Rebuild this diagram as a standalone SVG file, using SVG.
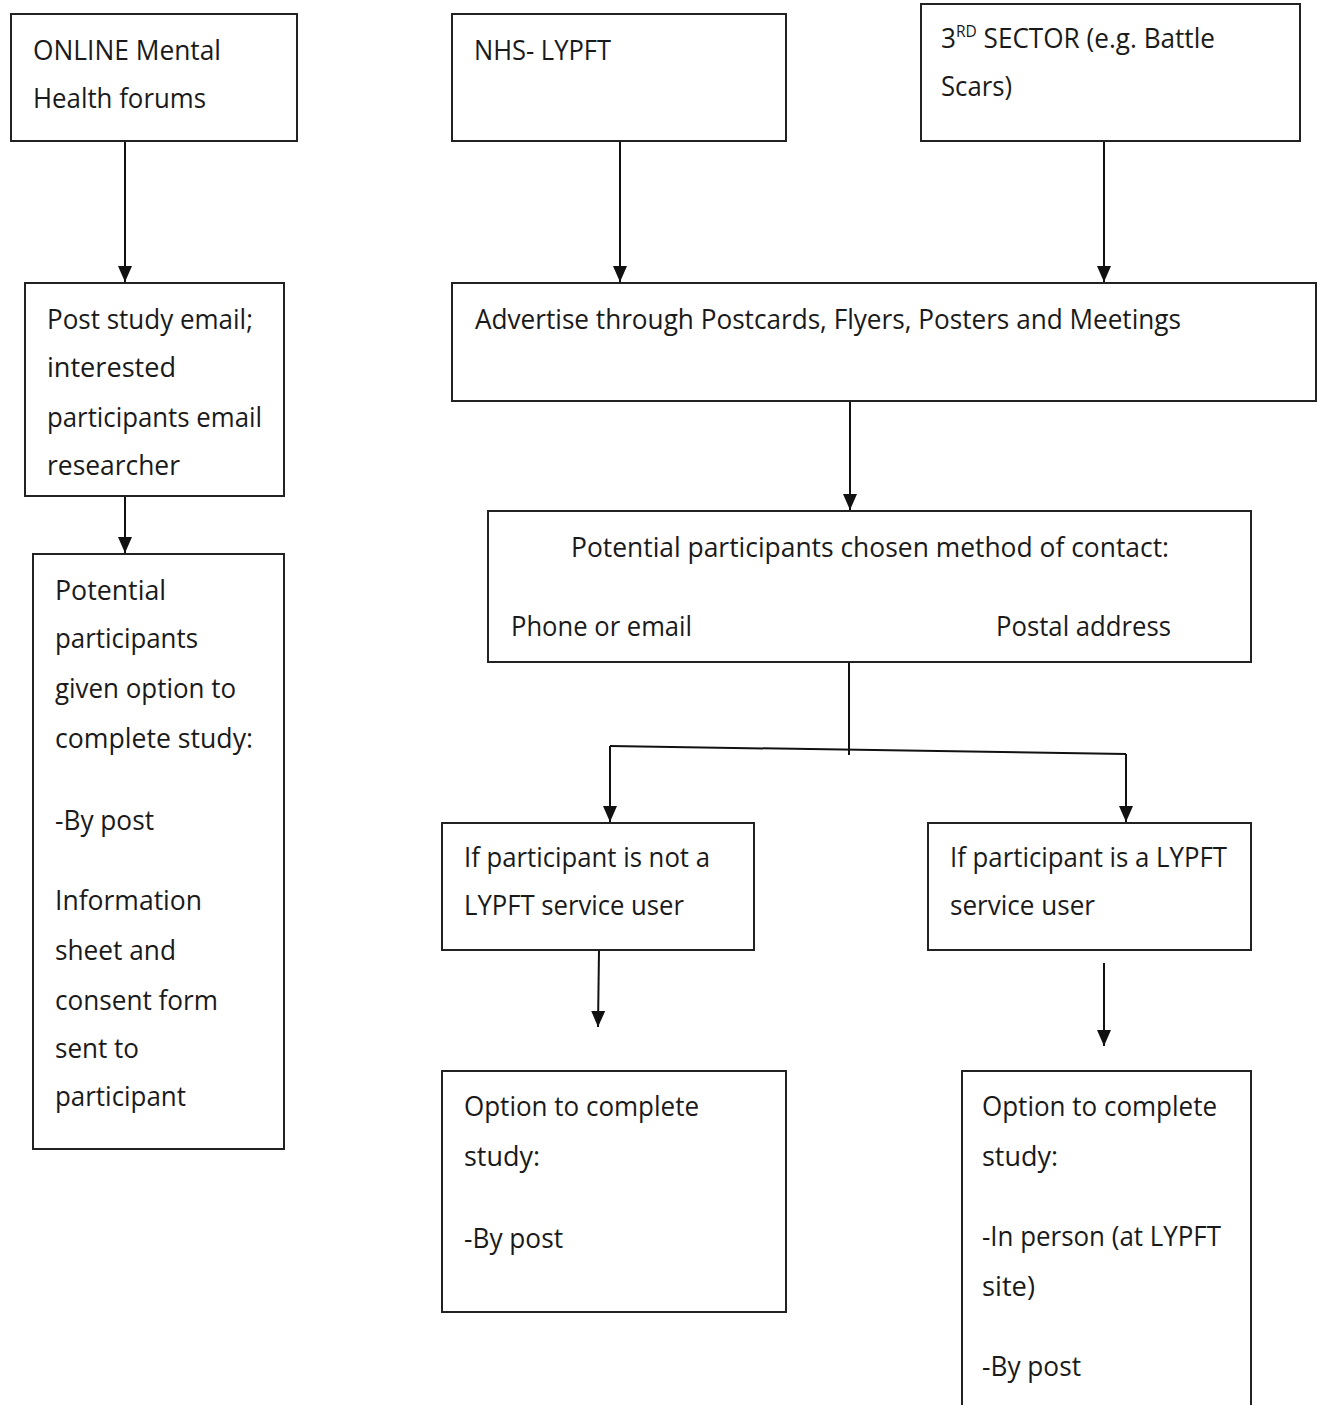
<svg xmlns="http://www.w3.org/2000/svg" width="1324" height="1405" viewBox="0 0 1324 1405">
<style>
.box{fill:#fff;stroke:#222;stroke-width:2}
.t{font-family:"Open Sans","Liberation Sans",sans-serif;font-size:27px;fill:#1a1a1a}
.c{fill:none;stroke:#111;stroke-width:2}
.a{marker-end:url(#ah)}
</style>
<defs>
<marker id="ah" markerUnits="userSpaceOnUse" markerWidth="14" markerHeight="16" viewBox="0 0 14 16" refX="7" refY="16" orient="auto">
<path d="M0,1 L0,15 L16,8 Z" transform="rotate(0)" fill="#111"/>
</marker>
<marker id="ahd" markerUnits="userSpaceOnUse" markerWidth="16" markerHeight="16" viewBox="0 0 16 16" refX="16" refY="8" orient="auto">
<path d="M0,1 L16,8 L0,15 Z" fill="#111"/>
</marker>
</defs>
<rect width="1324" height="1405" fill="#fff"/>
<g id="connectors">
<path class="c" d="M125,141 V282" marker-end="url(#ahd)"/>
<path class="c" d="M620,141 V282" marker-end="url(#ahd)"/>
<path class="c" d="M1104,141 V282" marker-end="url(#ahd)"/>
<path class="c" d="M125,496 V553" marker-end="url(#ahd)"/>
<path class="c" d="M850,401 V510" marker-end="url(#ahd)"/>
<path class="c" d="M849,662 V755"/>
<path class="c" d="M610,746 L1126,754"/>
<path class="c" d="M610,746 V822" marker-end="url(#ahd)"/>
<path class="c" d="M1126,754 V822" marker-end="url(#ahd)"/>
<path class="c" d="M599,950 L598,1027" marker-end="url(#ahd)"/>
<path class="c" d="M1104,963 V1046" marker-end="url(#ahd)"/>
</g>
<g id="online">
<rect class="box" x="11" y="14" width="286" height="127"/>
<text class="t" x="33" y="60" textLength="188" lengthAdjust="spacingAndGlyphs">ONLINE Mental</text>
<text class="t" x="33" y="108" textLength="173" lengthAdjust="spacingAndGlyphs">Health forums</text>
</g>
<g id="nhs">
<rect class="box" x="452" y="14" width="334" height="127"/>
<text class="t" x="474" y="60" textLength="137" lengthAdjust="spacingAndGlyphs">NHS- LYPFT</text>
</g>
<g id="sector">
<rect class="box" x="921" y="4" width="379" height="137"/>
<text class="t" x="941" y="48" textLength="274" lengthAdjust="spacingAndGlyphs">3<tspan font-size="16" dy="-11">RD</tspan><tspan dy="11"> SECTOR (e.g. Battle</tspan></text>
<text class="t" x="941" y="96" textLength="71" lengthAdjust="spacingAndGlyphs">Scars)</text>
</g>
<g id="post-email">
<rect class="box" x="25" y="283" width="259" height="213"/>
<text class="t" x="47" y="329" textLength="206" lengthAdjust="spacingAndGlyphs">Post study email;</text>
<text class="t" x="47" y="377" textLength="129" lengthAdjust="spacingAndGlyphs">interested</text>
<text class="t" x="47" y="427" textLength="215" lengthAdjust="spacingAndGlyphs">participants email</text>
<text class="t" x="47" y="475" textLength="133" lengthAdjust="spacingAndGlyphs">researcher</text>
</g>
<g id="potential-left">
<rect class="box" x="33" y="554" width="251" height="595"/>
<text class="t" x="55" y="600" textLength="111" lengthAdjust="spacingAndGlyphs">Potential</text>
<text class="t" x="55" y="648" textLength="143" lengthAdjust="spacingAndGlyphs">participants</text>
<text class="t" x="55" y="698" textLength="181" lengthAdjust="spacingAndGlyphs">given option to</text>
<text class="t" x="55" y="748" textLength="198" lengthAdjust="spacingAndGlyphs">complete study:</text>
<text class="t" x="55" y="830" textLength="99" lengthAdjust="spacingAndGlyphs">-By post</text>
<text class="t" x="55" y="910" textLength="147" lengthAdjust="spacingAndGlyphs">Information</text>
<text class="t" x="55" y="960" textLength="121" lengthAdjust="spacingAndGlyphs">sheet and</text>
<text class="t" x="55" y="1010" textLength="163" lengthAdjust="spacingAndGlyphs">consent form</text>
<text class="t" x="55" y="1058" textLength="84" lengthAdjust="spacingAndGlyphs">sent to</text>
<text class="t" x="55" y="1106" textLength="131" lengthAdjust="spacingAndGlyphs">participant</text>
</g>
<g id="advertise">
<rect class="box" x="452" y="283" width="864" height="118"/>
<text class="t" x="475" y="329" textLength="706" lengthAdjust="spacingAndGlyphs">Advertise through Postcards, Flyers, Posters and Meetings</text>
</g>
<g id="contact">
<rect class="box" x="488" y="511" width="763" height="151"/>
<text class="t" x="571" y="557" textLength="598" lengthAdjust="spacingAndGlyphs">Potential participants chosen method of contact:</text>
<text class="t" x="511" y="636" textLength="181" lengthAdjust="spacingAndGlyphs">Phone or email</text>
<text class="t" x="996" y="636" textLength="175" lengthAdjust="spacingAndGlyphs">Postal address</text>
</g>
<g id="not-user">
<rect class="box" x="442" y="823" width="312" height="127"/>
<text class="t" x="464" y="867" textLength="246" lengthAdjust="spacingAndGlyphs">If participant is not a</text>
<text class="t" x="464" y="915" textLength="220" lengthAdjust="spacingAndGlyphs">LYPFT service user</text>
</g>
<g id="is-user">
<rect class="box" x="928" y="823" width="323" height="127"/>
<text class="t" x="950" y="867" textLength="277" lengthAdjust="spacingAndGlyphs">If participant is a LYPFT</text>
<text class="t" x="950" y="915" textLength="145" lengthAdjust="spacingAndGlyphs">service user</text>
</g>
<g id="option-post">
<rect class="box" x="442" y="1071" width="344" height="241"/>
<text class="t" x="464" y="1116" textLength="235" lengthAdjust="spacingAndGlyphs">Option to complete</text>
<text class="t" x="464" y="1166" textLength="76" lengthAdjust="spacingAndGlyphs">study:</text>
<text class="t" x="464" y="1248" textLength="99" lengthAdjust="spacingAndGlyphs">-By post</text>
</g>
<g id="option-person">
<rect class="box" x="962" y="1071" width="289" height="345"/>
<text class="t" x="982" y="1116" textLength="235" lengthAdjust="spacingAndGlyphs">Option to complete</text>
<text class="t" x="982" y="1166" textLength="76" lengthAdjust="spacingAndGlyphs">study:</text>
<text class="t" x="982" y="1246" textLength="239" lengthAdjust="spacingAndGlyphs">-In person (at LYPFT</text>
<text class="t" x="982" y="1296" textLength="53" lengthAdjust="spacingAndGlyphs">site)</text>
<text class="t" x="982" y="1376" textLength="99" lengthAdjust="spacingAndGlyphs">-By post</text>
</g>
</svg>
